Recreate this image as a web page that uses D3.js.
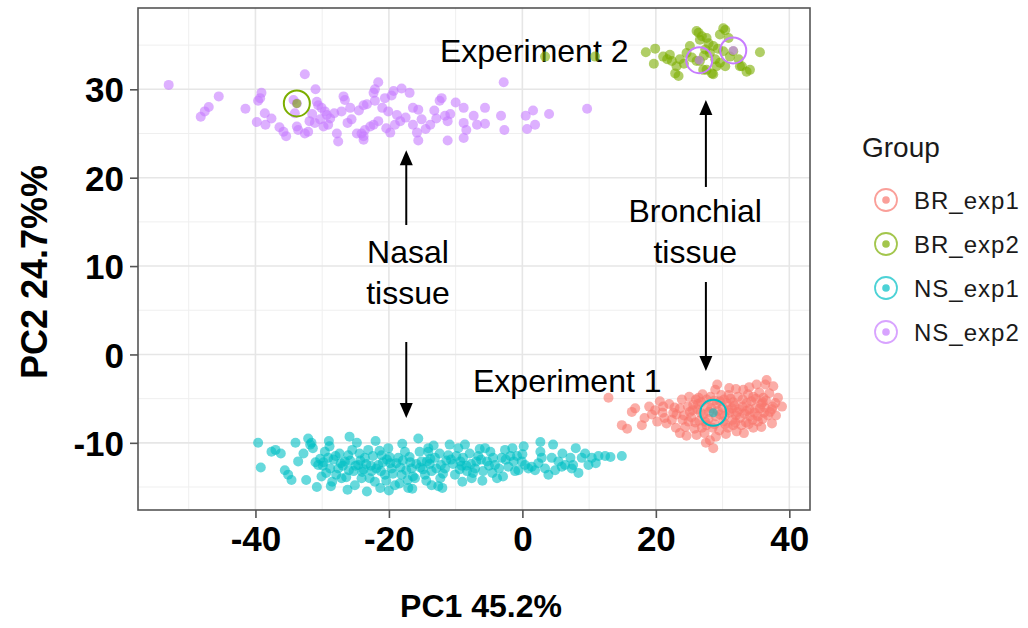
<!DOCTYPE html>
<html><head><meta charset="utf-8">
<script src="https://cdn.jsdelivr.net/npm/d3@7"></script>
<style>
html,body{margin:0;padding:0;background:#fff;}
svg{display:block;font-family:"Liberation Sans",Arial,Helvetica,sans-serif;}
</style></head>
<body>
<svg id="chart" width="1028" height="628"></svg>
<script>
// ---------- data ----------
const groups = ["BR_exp1","BR_exp2","NS_exp1","NS_exp2"];
const groupColors = ["#F8766D","#7CAE00","#00BFC4","#C77CFF"];

const brExp1 = [
[12.9,-4.9],[14.9,-8.0],[15.7,-8.4],[16.4,-6.5],[16.9,-6.1],[17.9,-8.0],[19.4,-6.8],[19.9,-6.3],[20.6,-5.3],[21.1,-5.9],
[21.3,-7.2],[21.6,-7.8],[22.4,-7.4],[22.6,-6.6],[23.1,-6.8],[23.6,-6.1],[23.9,-5.1],[23.6,-8.9],[24.4,-8.2],[24.9,-7.6],
[25.1,-6.5],[25.6,-5.7],[26.4,-4.9],[26.1,-9.1],[26.9,-8.3],[27.6,-8.0],[28.1,-9.7],[28.6,-10.6],[28.9,-4.0],[29.6,-5.3],
[30.1,-7.6],[30.9,-4.6],[31.4,-6.1],[31.6,-8.0],[32.1,-8.7],[32.6,-7.2],[33.1,-4.0],[33.6,-5.5],[34.1,-7.0],[34.6,-8.3],
[35.1,-3.4],[35.6,-6.1],[36.1,-4.9],[36.6,-2.9],[37.1,-6.5],[37.4,-7.8],[37.9,-5.5],[38.9,-5.9],[36.4,-3.4],
[24.2,-6.9],[24.8,-5.9],[25.3,-7.1],[25.8,-8.4],[26.2,-6.2],[26.5,-7.5],[26.8,-5.4],[27.1,-6.8],[27.3,-8.9],[27.7,-5.9],
[27.9,-7.3],[28.3,-6.1],[28.5,-8.3],[28.8,-5.2],[29.0,-7.0],[29.3,-6.4],[29.5,-8.6],[29.8,-4.6],[30.0,-6.0],[30.3,-7.0],
[30.6,-5.5],[30.8,-8.3],[31.0,-6.6],[31.2,-5.0],[31.5,-7.4],[31.8,-5.8],[32.0,-6.9],[32.3,-4.8],[32.5,-6.2],[32.8,-8.0],
[33.0,-5.9],[33.3,-6.7],[33.5,-7.7],[33.8,-4.5],[34.0,-6.2],[34.3,-5.3],[34.5,-7.4],[34.8,-6.6],[35.0,-5.0],[35.3,-7.0],
[35.5,-4.3],[35.8,-5.6],[36.0,-7.3],[36.3,-6.0],[36.5,-5.2],[36.8,-6.9],[37.0,-4.4],[37.5,-5.9],[38.0,-6.9],[38.3,-4.9],
[27.0,-4.5],[25.0,-4.8],[22.0,-5.6],[21.0,-6.6],[20.2,-7.6],[19.0,-5.9],[18.3,-7.2],[23.0,-8.3],[24.6,-9.2],[29.0,-9.3],
[30.5,-9.0],[27.5,-10.0],[31.0,-3.8],[34.0,-3.7],[32.0,-3.9],[28.2,-4.8],[26.0,-5.1],[33.2,-8.9],[35.8,-8.2],[37.6,-3.6],
[29.2,-3.4],[25.5,-6.3],[26.7,-6.6],[28.0,-6.5],[29.6,-6.8],[30.9,-6.3],[32.2,-6.5],[33.6,-6.4],[34.9,-6.1],[36.2,-6.6],
[25.9,-7.7],[27.4,-7.6],[28.8,-7.9],[30.4,-7.9],[31.9,-7.7],[33.9,-7.9],[35.3,-7.6],[24.0,-7.4],[22.8,-6.0],[26.3,-5.6],
[27.6,-5.1],[29.1,-5.6],[30.2,-5.1],[31.6,-5.4],[33.0,-5.1],[34.6,-4.8],[36.0,-5.4],[37.4,-6.2]
];

const brExp2 = [
[3.4,33.7],[10.9,33.7],
[18.5,34.2],[19.9,34.6],[19.7,32.9],[21.1,33.7],[22.1,33.9],[22.4,33.2],[21.7,33.4],[23.1,32.6],[23.6,33.4],[22.9,31.8],
[23.4,31.5],[24.6,34.1],[25.1,34.9],[26.4,36.4],[26.6,35.6],[27.6,35.8],[27.9,35.2],[27.4,34.5],[28.1,34.1],[28.6,34.9],
[28.9,33.4],[29.1,32.6],[28.4,31.8],[27.6,32.2],[26.6,33.2],[26.1,36.6],[26.9,36.0],[28.6,31.7],[27.1,32.2],
[29.6,36.2],[30.4,36.7],[30.9,35.8],[30.1,36.9],[30.1,34.3],[31.1,33.7],[31.6,34.3],[32.4,33.4],[32.6,32.6],[32.9,32.6],
[33.6,32.0],[34.1,32.2],[35.6,34.2],[29.6,33.0],[30.4,32.6],[26.1,33.2],[25.4,33.6],[27.2,33.8],[29.3,34.6],[24.2,32.9]
];

const nsExp1 = [
[-39.6,-10.0],[-39.2,-12.8],[-37.6,-11.0],[-37.0,-10.8],[-35.6,-13.1],[-35.1,-13.6],[-34.6,-14.2],[-33.6,-12.1],[-32.4,-14.2],[-32.1,-9.5],
[-31.6,-10.0],[-31.4,-10.6],[-31.8,-10.2],[-30.6,-12.5],[-30.1,-13.8],[-29.6,-11.0],[-29.1,-11.7],[-28.8,-12.9],[-28.7,-14.9],[-28.5,-14.4],
[-27.6,-12.9],[-27.1,-14.0],[-26.6,-12.1],[-26.1,-11.4],[-25.9,-9.3],[-25.3,-13.2],[-25.1,-14.8],[-24.6,-12.5],[-24.1,-14.0],[-23.6,-11.7],
[-23.1,-10.8],[-22.6,-13.2],[-22.1,-14.4],[-21.6,-12.5],[-21.3,-15.1],[-21.1,-11.4],[-20.6,-13.6],[-20.1,-10.6],[-19.6,-12.9],[-19.1,-14.8],
[-18.6,-11.7],[-18.1,-13.6],[-17.6,-11.0],[-17.1,-15.1],[-16.6,-12.9],[-16.1,-14.0],[-15.6,-9.5],[-15.1,-12.1],[-14.6,-13.6],[-14.1,-11.0],
[-13.6,-14.8],
[14.9,-11.5],[12.4,-11.5],[11.4,-11.5],[10.4,-11.7],[9.4,-11.2],[9.9,-12.5],[8.9,-11.7],[7.2,-11.7],[7.4,-12.9],[8.4,-13.4],
[7.6,-12.5],[6.4,-12.5],[5.4,-12.1],[4.4,-11.7],[3.9,-13.6],[4.9,-13.1],[5.9,-12.7],[4.6,-10.2],[2.7,-9.9],[2.7,-11.0],
[0.2,-10.4],[0.4,-12.5],[1.4,-12.7],[2.4,-12.3],[2.9,-11.7],[3.4,-12.9],[1.9,-13.1],[0.9,-12.9],[-0.6,-13.1],[-0.1,-12.1],
[-2.6,-10.8],[-1.8,-11.5],[-1.3,-12.1],[-1.1,-13.2],[-2.1,-12.7],[-3.1,-11.7],[-4.1,-12.5],[-3.8,-14.0],[-4.8,-11.0],[-5.6,-10.6],
[-5.3,-12.1],[-6.6,-11.5],[-7.1,-12.9],[-7.6,-14.0],[-8.6,-10.2],[-8.3,-13.2],[-9.6,-10.6],[-9.3,-12.1],[-10.1,-13.6],[-11.1,-11.4],
[-11.6,-12.9],[-12.3,-14.0],[-12.6,-14.9],[-13.1,-11.7],[-13.6,-13.2],[-14.1,-10.6],[-14.3,-12.1],
[-30.3,-11.8],[-29.9,-12.6],[-29.4,-13.4],[-28.9,-10.4],[-28.3,-11.9],[-27.9,-13.6],[-27.4,-11.2],[-26.9,-12.6],[-26.4,-13.9],[-25.8,-12.0],
[-25.5,-10.8],[-25.0,-12.6],[-24.4,-11.2],[-24.0,-13.3],[-23.4,-12.4],[-22.9,-14.0],[-22.4,-11.5],[-21.9,-12.9],[-21.4,-10.9],[-20.9,-12.2],
[-20.4,-14.3],[-19.9,-11.6],[-19.4,-13.5],[-18.9,-12.3],[-18.4,-14.6],[-17.9,-12.0],[-17.4,-13.1],[-16.9,-11.6],[-16.4,-13.8],[-15.9,-12.4],
[-15.4,-11.0],[-14.9,-13.0],[-14.4,-14.3],[-13.9,-12.4],[-13.3,-10.3],[-12.9,-12.9],[-12.4,-11.2],[-11.9,-13.5],[-11.4,-12.0],[-10.9,-10.2],
[-10.4,-12.4],[-9.9,-11.5],[-9.4,-13.0],[-8.9,-11.7],[-8.4,-12.6],[-7.9,-11.2],[-7.4,-13.4],[-6.9,-12.1],[-6.4,-10.7],[-5.9,-13.2],
[-5.0,-12.6],[-4.4,-11.7],[-3.5,-12.9],[-2.5,-11.9],[-1.5,-10.6],[-0.8,-11.5],[-26.2,-15.3],[-23.3,-15.5],[-20.0,-15.4],[-16.5,-15.2],
[-31.0,-12.2],[-32.8,-11.2],[-34.0,-10.0],[-36.2,-11.2],[-30.8,-15.0],[-29.0,-9.8],[-24.8,-10.0],[-22.0,-9.8],[-18.0,-10.1],[-12.0,-15.1],
[-9.0,-14.4],[-6.0,-14.3],[-4.5,-13.4],[-2.9,-13.8],[0.0,-11.3],[6.0,-11.2],[8.0,-10.6],[11.0,-12.3],[13.2,-11.6],
[-29.8,-12.2],[-27.2,-12.3],[-26.0,-13.1],[-24.3,-12.0],[-22.7,-12.6],[-21.2,-13.2],[-19.8,-12.3],[-18.3,-12.8],[-16.8,-12.2],[-15.3,-12.8],
[-13.8,-11.8],[-12.2,-12.5],[-10.7,-11.9],[-9.1,-12.6],[-7.7,-12.4],[-6.2,-11.9],[-28.0,-11.5],[-23.8,-13.0],[-20.3,-11.9],[-17.2,-14.2]
];

const nsExp2 = [
[-53.0,30.5],[-48.2,26.9],[-47.6,27.5],[-47.0,28.0],[-45.5,29.2],[-41.5,27.8],
[-39.8,26.3],[-39.1,29.6],[-39.6,28.7],[-39.3,29.0],[-38.6,27.3],[-38.5,26.0],[-37.6,26.7],
[-36.4,25.7],[-35.8,25.2],[-35.4,24.7],
[-32.6,31.7],[-31.0,30.0],[-34.3,28.8],[-33.8,28.4],[-34.1,27.3],[-33.8,25.8],[-33.6,25.4],
[-32.6,25.0],[-32.1,25.2],[-31.9,26.4],[-31.1,26.2],[-30.3,26.6],
[-30.6,28.2],[-30.1,27.9],[-29.6,27.5],[-29.3,27.1],[-28.8,26.7],[-29.1,26.0],[-29.8,25.8],
[-26.8,29.2],[-26.6,28.8],[-25.8,27.9],[-27.1,27.5],[-25.6,26.6],[-27.8,25.0],[-27.6,24.1],
[-24.8,25.0],[-23.8,24.7],[-23.3,28.3],
[-23.8,28.2],[-22.1,28.7],[-21.6,26.4],[-22.3,26.0],[-22.8,25.8],[-23.6,25.4],[-24.1,25.0],[-23.8,24.3],
[-21.6,30.8],[-22.1,30.0],[-22.3,29.6],[-20.6,29.0],[-20.1,27.5],[-18.8,27.1],
[-18.3,26.4],[-19.1,26.0],[-19.8,25.1],[-19.3,29.8],[-19.6,29.3],[-18.1,30.1],[-16.9,29.6],
[-15.6,27.7],[-16.4,27.9],[-15.8,25.1],[-15.6,24.2],[-16.4,26.0],[-15.1,26.6],
[-13.8,26.0],[-12.9,26.7],[-13.2,27.6],[-12.1,29.0],[-12.4,28.7],
[-10.8,27.2],[-11.6,27.0],[-11.2,26.4],[-11.2,24.2],
[-8.8,27.9],[-8.8,26.2],[-8.4,25.4],[-8.8,24.5],
[-7.3,27.0],[-6.8,26.0],[-5.6,27.9],[-5.6,26.1],
[-3.2,27.0],[-2.7,25.4],[-2.8,30.8],
[0.5,27.0],[1.6,27.6],[0.7,25.5],[1.9,26.0],[4.0,27.2],[9.7,27.8],
[-31.5,27.2],[-30.8,28.6],[-28.2,27.3],[-26.2,26.2],[-24.5,27.6],[-21.0,27.9],[-20.4,25.6],[-17.5,26.8],[-14.5,25.5],[-10.0,28.5]
];

// centroid rings: [x, y, groupIndex]
const ringCenters = [[-33.8,28.4,1],[26.5,33.3,3],[31.6,34.4,3],[28.6,-6.6,2]];

const xTicks = [-40,-20,0,20,40];
const yTicks = [-10,0,10,20,30];
const xMinor = [-50,-30,-10,10,30];
const yMinor = [-15,-5,5,15,25,35];
const xTitle = "PC1 45.2%";
const yTitle = "PC2 24.7%%";
const legendTitle = "Group";

// annotations (data coordinates)
const labels = [
  {t:"Experiment 2", x:-12.35, y:33.1, anchor:"start"},
  {t:"Experiment 1", x:-7.4, y:-4.25, anchor:"start"},
  {t:"Nasal", x:-17.15, y:10.35, anchor:"middle"},
  {t:"tissue", x:-17.15, y:5.7, anchor:"middle"},
  {t:"Bronchial", x:25.9, y:14.95, anchor:"middle"},
  {t:"tissue", x:25.9, y:10.35, anchor:"middle"}
];
const arrows = [
  {x:-17.4, y0:14.65, y1:23.1},
  {x:-17.4, y0:1.41, y1:-7.19},
  {x:27.5, y0:18.95, y1:28.8},
  {x:27.5, y0:8.2, y1:-1.87}
];

// ---------- chart ----------
const svg = d3.select("#chart");
const L=138, R=810, T=8, B=510;
const x = d3.scaleLinear().domain([-57.6,43.1]).range([L,R]);
const y = d3.scaleLinear().domain([-17.6,39.2]).range([B,T]);
const color = d3.scaleOrdinal().domain(groups).range(groupColors);

const g = svg.append("g");
g.append("rect").attr("x",L).attr("y",T).attr("width",R-L).attr("height",B-T).attr("fill","#fff");

// grid
g.selectAll(".vmin").data(xMinor).join("line")
  .attr("x1",d=>x(d)).attr("x2",d=>x(d)).attr("y1",T).attr("y2",B)
  .attr("stroke","#efefef").attr("stroke-width",1);
g.selectAll(".hmin").data(yMinor).join("line")
  .attr("y1",d=>y(d)).attr("y2",d=>y(d)).attr("x1",L).attr("x2",R)
  .attr("stroke","#efefef").attr("stroke-width",1);
g.selectAll(".vmaj").data(xTicks).join("line")
  .attr("x1",d=>x(d)).attr("x2",d=>x(d)).attr("y1",T).attr("y2",B)
  .attr("stroke","#e6e6e6").attr("stroke-width",1.6);
g.selectAll(".hmaj").data(yTicks).join("line")
  .attr("y1",d=>y(d)).attr("y2",d=>y(d)).attr("x1",L).attr("x2",R)
  .attr("stroke","#e6e6e6").attr("stroke-width",1.6);

// annotation text (under points)
g.selectAll(".ann").data(labels).join("text")
  .attr("x",d=>x(d.x)).attr("y",d=>y(d.y)).attr("text-anchor",d=>d.anchor)
  .attr("font-size",32).attr("fill","#000").text(d=>d.t);

// points
const series = [brExp1, brExp2, nsExp1, nsExp2];
series.forEach((arr,i)=>{
  g.append("g").selectAll("circle").data(arr).join("circle")
    .attr("cx",d=>x(d[0])).attr("cy",d=>y(d[1])).attr("r",5)
    .attr("fill",groupColors[i]).attr("fill-opacity",0.6);
});

// rings
g.append("g").selectAll("circle").data(ringCenters).join("circle")
  .attr("cx",d=>x(d[0])).attr("cy",d=>y(d[1])).attr("r",4.5)
  .attr("fill",d=>groupColors[d[2]]).attr("fill-opacity",0.6);
g.append("g").selectAll("circle").data(ringCenters).join("circle")
  .attr("cx",d=>x(d[0])).attr("cy",d=>y(d[1])).attr("r",13)
  .attr("fill","none").attr("stroke",d=>groupColors[d[2]]).attr("stroke-width",2);

// arrows
const ag = g.append("g");
arrows.forEach(a=>{
  const px = x(a.x), p0 = y(a.y0), p1 = y(a.y1);
  const dir = p1 < p0 ? 1 : -1; // 1 = pointing up
  const head = 15, hw = 6.5;
  ag.append("line").attr("x1",px).attr("x2",px).attr("y1",p0).attr("y2",p1+dir*head*0.8)
    .attr("stroke","#000").attr("stroke-width",2);
  ag.append("path").attr("d",`M${px},${p1} L${px-hw},${p1+dir*head} L${px+hw},${p1+dir*head} Z`).attr("fill","#000");
});

// panel border
g.append("rect").attr("x",L).attr("y",T).attr("width",R-L).attr("height",B-T)
  .attr("fill","none").attr("stroke","#555").attr("stroke-width",1.6);

// axes
const xAxis = g.append("g").attr("transform",`translate(0,${B})`)
  .call(d3.axisBottom(x).tickValues(xTicks).tickSize(8).tickPadding(6).tickFormat(d=>String(d)));
const yAxis = g.append("g").attr("transform",`translate(${L},0)`)
  .call(d3.axisLeft(y).tickValues(yTicks).tickSize(8).tickPadding(6).tickFormat(d=>String(d)));
[xAxis,yAxis].forEach(ax=>{
  ax.select(".domain").remove();
  ax.selectAll(".tick line").attr("stroke","#555").attr("stroke-width",1.6);
  ax.selectAll(".tick text").attr("fill","#000").attr("font-size",35).attr("font-weight","bold")
    .attr("font-family",'"Liberation Sans",Arial,sans-serif');
});
xAxis.selectAll(".tick text").attr("dy","0.78em");
yAxis.selectAll(".tick text").attr("dy","0.36em");

// axis titles
svg.append("text").attr("x",481).attr("y",617).attr("text-anchor","middle")
  .attr("font-size",32).attr("font-weight","bold").text(xTitle);
svg.append("text").attr("transform","translate(47,272) rotate(-90)").attr("text-anchor","middle")
  .attr("font-size",36).attr("font-weight","bold").text(yTitle);

// legend
const lg = svg.append("g");
lg.append("text").attr("x",862).attr("y",157).attr("font-size",28).attr("fill","#1a1a1a").text(legendTitle);
const items = lg.selectAll(".item").data(groups).join("g")
  .attr("transform",(d,i)=>`translate(886,${200+i*44})`);
items.append("circle").attr("r",11).attr("fill","none").attr("stroke",d=>color(d))
  .attr("stroke-opacity",0.7).attr("stroke-width",1.8);
items.append("circle").attr("r",3.8).attr("fill",d=>color(d)).attr("fill-opacity",0.7);
items.append("text").attr("x",28).attr("y",9).attr("font-size",24).attr("letter-spacing",1)
  .attr("fill","#1a1a1a").text(d=>d);
</script>
</body></html>
